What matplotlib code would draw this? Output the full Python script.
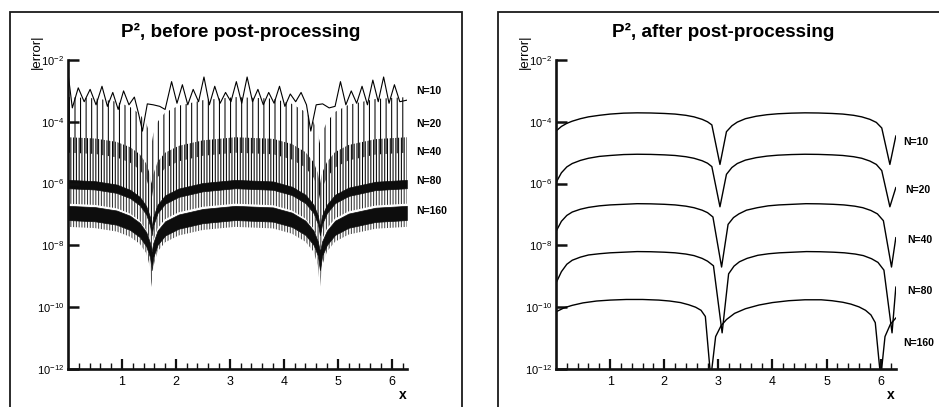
import numpy as np
import matplotlib
matplotlib.use("Agg")
import matplotlib.pyplot as plt
from matplotlib.patches import Rectangle
from matplotlib.ticker import FixedLocator, NullLocator

plt.rcParams['font.family'] = ['Liberation Sans', 'DejaVu Sans']
plt.rcParams['mathtext.fontset'] = 'custom'
plt.rcParams['mathtext.rm'] = 'Liberation Sans'
plt.rcParams['mathtext.it'] = 'Liberation Sans:italic'
plt.rcParams['mathtext.bf'] = 'Liberation Sans:bold'
plt.rcParams['hatch.linewidth'] = 0.75

# ---------------- data (log10 of |error|) ----------------
mesh_labels = ["N=10", "N=20", "N=40", "N=80", "N=160"]
y_tick_exps = [-2, -4, -6, -8, -10, -12]
x_major = [1, 2, 3, 4, 5, 6]

# before post-processing: coarsest mesh drawn point by point
pre10_x = [0.00, 0.08, 0.19, 0.30, 0.41, 0.52, 0.63, 0.73, 0.83, 0.93,
           1.03, 1.13, 1.23, 1.31, 1.38, 1.47, 1.58, 1.70, 1.80, 1.92,
           2.02, 2.12, 2.22, 2.32, 2.42, 2.52, 2.62, 2.72, 2.82, 2.92,
           3.02, 3.12, 3.22, 3.32, 3.42, 3.52, 3.62, 3.72, 3.82, 3.92,
           4.02, 4.12, 4.22, 4.32, 4.42, 4.50, 4.60, 4.72, 4.84, 4.95,
           5.05, 5.15, 5.25, 5.35, 5.45, 5.55, 5.65, 5.75, 5.85, 5.95,
           6.05, 6.15, 6.28]
pre10_y = [-2.42, -3.55, -2.90, -3.35, -2.95, -3.45, -2.85, -3.50, -3.05, -3.60,
           -3.00, -3.45, -3.20, -3.75, -4.30, -3.42, -3.45, -3.50, -3.60, -2.70,
           -3.40, -2.80, -3.45, -2.95, -3.35, -2.55, -3.45, -2.85, -3.40, -3.05,
           -3.35, -2.70, -3.40, -2.55, -3.35, -2.95, -3.45, -3.05, -3.40, -2.85,
           -3.50, -3.10, -3.35, -3.05, -3.45, -4.30, -3.45, -3.42, -3.55, -3.50,
           -2.70, -3.45, -3.00, -3.40, -2.85, -3.45, -2.65, -3.35, -2.55, -3.40,
           -2.80, -3.35, -3.30]

# before post-processing: finer meshes oscillate too densely to resolve,
# so they are given by the envelopes of their oscillation bands
env_x = [0.0, 0.5, 0.9, 1.15, 1.33, 1.45, 1.52, 1.55, 1.58, 1.66, 1.8, 2.05, 2.5,
         3.1, 3.8, 4.15, 4.4, 4.55, 4.63, 4.67, 4.71, 4.8, 4.95, 5.2, 5.7, 6.28]
pre20_hi = [-3.2, -3.24, -3.35, -3.52, -3.75, -4.05, -4.4, -4.7, -4.4, -4.0, -3.7, -3.48, -3.3,
            -3.2, -3.25, -3.42, -3.68, -4.0, -4.35, -4.7, -4.35, -4.0, -3.68, -3.45, -3.26, -3.2]
pre20_lo = [-5.0, -5.04, -5.15, -5.32, -5.55, -5.85, -6.2, -6.5, -6.2, -5.8, -5.5, -5.28, -5.1,
            -5.0, -5.05, -5.22, -5.48, -5.8, -6.15, -6.5, -6.15, -5.8, -5.48, -5.25, -5.06, -5.0]
pre40_hi = [-4.5, -4.54, -4.65, -4.82, -5.05, -5.35, -5.7, -6.0, -5.7, -5.3, -5.0, -4.78, -4.6,
            -4.5, -4.55, -4.72, -4.98, -5.3, -5.65, -6.0, -5.65, -5.3, -4.98, -4.75, -4.56, -4.5]
pre40_lo = [-6.0, -6.04, -6.15, -6.32, -6.55, -6.85, -7.2, -7.5, -7.2, -6.8, -6.5, -6.28, -6.1,
            -6.0, -6.05, -6.22, -6.48, -6.8, -7.15, -7.5, -7.15, -6.8, -6.48, -6.25, -6.06, -6.0]
pre80_hi = [-5.88, -5.92, -6.03, -6.2, -6.43, -6.73, -7.08, -7.4, -7.08, -6.68, -6.38, -6.16, -5.98,
            -5.88, -5.93, -6.1, -6.36, -6.68, -7.03, -7.4, -7.03, -6.68, -6.36, -6.13, -5.94, -5.88]
pre80_mid = [-6.15, -6.19, -6.3, -6.47, -6.7, -7.0, -7.35, -7.67, -7.35, -6.95, -6.65, -6.43, -6.25,
             -6.15, -6.2, -6.37, -6.63, -6.95, -7.3, -7.67, -7.3, -6.95, -6.63, -6.4, -6.21, -6.15]
pre80_lo = [-6.65, -6.69, -6.8, -6.97, -7.2, -7.5, -7.85, -8.3, -7.85, -7.45, -7.15, -6.93, -6.75,
            -6.65, -6.7, -6.87, -7.13, -7.45, -7.8, -8.3, -7.8, -7.45, -7.13, -6.9, -6.71, -6.65]
pre160_hi = [-6.72, -6.76, -6.87, -7.04, -7.27, -7.57, -7.92, -8.2, -7.92, -7.52, -7.22, -7.0, -6.82,
             -6.72, -6.77, -6.94, -7.2, -7.52, -7.87, -8.2, -7.87, -7.52, -7.2, -6.97, -6.78, -6.72]
pre160_mid = [-7.18, -7.22, -7.33, -7.5, -7.73, -8.03, -8.38, -8.8, -8.38, -7.98, -7.68, -7.46, -7.28,
              -7.18, -7.23, -7.4, -7.66, -7.98, -8.33, -8.8, -8.33, -7.98, -7.66, -7.43, -7.24, -7.18]
pre160_lo = [-7.4, -7.44, -7.55, -7.72, -7.95, -8.25, -8.7, -9.35, -8.7, -8.2, -7.9, -7.68, -7.5,
             -7.4, -7.45, -7.62, -7.88, -8.2, -8.65, -9.35, -8.65, -8.2, -7.88, -7.65, -7.46, -7.4]

# after post-processing: smooth error curves
post10_x = [0.0, 0.1, 0.2, 0.3, 0.45, 0.6, 0.8, 1.0, 1.25, 1.5, 1.75, 2.0, 2.2, 2.4,
            2.55, 2.7, 2.8, 2.88, 3.03, 3.15, 3.25, 3.35, 3.5, 3.7, 3.9, 4.1, 4.35,
            4.6, 4.85, 5.1, 5.3, 5.5, 5.65, 5.8, 5.92, 6.02, 6.17, 6.28]
post10_y = [-4.30, -4.15, -4.05, -3.98, -3.90, -3.84, -3.79, -3.75, -3.72, -3.71, -3.715,
            -3.73, -3.75, -3.79, -3.84, -3.92, -4.00, -4.10, -5.38, -4.32, -4.13, -4.01,
            -3.90, -3.82, -3.77, -3.74, -3.72, -3.71, -3.715, -3.73, -3.75, -3.79, -3.84,
            -3.92, -4.02, -4.20, -5.38, -4.46]
post20_x = post10_x
post20_y = [-5.97, -5.65, -5.46, -5.35, -5.25, -5.18, -5.12, -5.09, -5.06, -5.05, -5.055,
            -5.07, -5.09, -5.13, -5.18, -5.26, -5.34, -5.45, -6.75, -5.70, -5.48, -5.35,
            -5.24, -5.16, -5.11, -5.08, -5.06, -5.05, -5.055, -5.07, -5.09, -5.13, -5.18,
            -5.27, -5.38, -5.58, -6.75, -6.13]
post40_x = [0.0, 0.1, 0.2, 0.3, 0.45, 0.6, 0.8, 1.0, 1.25, 1.5, 1.75, 2.0, 2.2, 2.4,
            2.55, 2.7, 2.8, 2.9, 3.06, 3.18, 3.28, 3.38, 3.52, 3.72, 3.92, 4.12, 4.37,
            4.62, 4.87, 5.12, 5.32, 5.52, 5.67, 5.82, 5.94, 6.05, 6.2, 6.28]
post40_y = [-7.55, -7.22, -7.03, -6.92, -6.83, -6.77, -6.72, -6.69, -6.67, -6.65, -6.655,
            -6.67, -6.69, -6.73, -6.78, -6.86, -6.94, -7.08, -8.7, -7.32, -7.1, -6.98,
            -6.86, -6.78, -6.72, -6.69, -6.67, -6.65, -6.655, -6.67, -6.69, -6.73, -6.78,
            -6.87, -6.98, -7.2, -8.7, -7.75]
post80_x = [0.0, 0.1, 0.2, 0.3, 0.45, 0.6, 0.8, 1.0, 1.25, 1.5, 1.75, 2.0, 2.2, 2.4,
            2.55, 2.7, 2.8, 2.91, 3.07, 3.19, 3.29, 3.39, 3.53, 3.73, 3.93, 4.13, 4.38,
            4.63, 4.88, 5.13, 5.33, 5.53, 5.68, 5.83, 5.95, 6.06, 6.21, 6.28]
post80_y = [-9.22, -8.85, -8.61, -8.48, -8.38, -8.31, -8.27, -8.24, -8.22, -8.2, -8.205,
            -8.22, -8.24, -8.28, -8.33, -8.42, -8.51, -8.66, -10.83, -8.92, -8.67, -8.53,
            -8.42, -8.32, -8.27, -8.24, -8.22, -8.2, -8.205, -8.22, -8.24, -8.28, -8.33,
            -8.43, -8.55, -8.8, -10.83, -9.35]
post160_x = [0.0, 0.15, 0.3, 0.5, 0.75, 1.0, 1.3, 1.6, 1.9, 2.1, 2.3, 2.45, 2.58, 2.68,
             2.76, 2.86, 2.95, 3.05, 3.15, 3.3, 3.5, 3.75, 4.0, 4.3, 4.6, 4.9, 5.1, 5.3,
             5.45, 5.6, 5.72, 5.82, 5.9, 6.0, 6.08, 6.18, 6.28]
post160_y = [-10.15, -10.02, -9.94, -9.86, -9.8, -9.77, -9.75, -9.75, -9.77, -9.8, -9.85,
             -9.92, -10.0, -10.1, -10.3, -12.3, -10.95, -10.6, -10.4, -10.2, -10.05, -9.93,
             -9.85, -9.79, -9.76, -9.76, -9.79, -9.84, -9.9, -9.99, -10.1, -10.25, -10.5,
             -12.3, -10.95, -10.55, -10.35]

post_x = [post10_x, post20_x, post40_x, post80_x, post160_x]
post_y = [post10_y, post20_y, post40_y, post80_y, post160_y]

# ---------------- figure ----------------
W, H = 939, 407
fig = plt.figure(figsize=(W / 100, H / 100), dpi=100)


def fx(px):
    return px / W


def fy(py):
    return 1 - py / H


# framing boxes around each panel
for x0, x1 in [(10, 462), (498, 960)]:
    fig.add_artist(Rectangle((fx(x0), fy(430)), fx(x1 - x0), (430 - 12) / H,
                             transform=fig.transFigure, fill=False,
                             lw=1.3, ec="#1a1a1a"))


def style_axes(ax):
    ax.set_yscale("log")
    ax.set_xlim(0, 2 * np.pi)
    ax.set_ylim(1e-12, 1e-2)
    for s in ("top", "right"):
        ax.spines[s].set_visible(False)
    for s in ("left", "bottom"):
        ax.spines[s].set_linewidth(1.9)
        ax.spines[s].set_color("#111111")
    ax.yaxis.set_major_locator(FixedLocator([10.0 ** e for e in y_tick_exps]))
    ax.yaxis.set_minor_locator(NullLocator())
    ax.set_yticklabels([r"$10^{%d}$" % e for e in y_tick_exps])
    ax.xaxis.set_major_locator(FixedLocator(x_major))
    ax.set_xticklabels([str(v) for v in x_major])
    ax.xaxis.set_minor_locator(FixedLocator(np.arange(0.2, 6.3, 0.2)))
    ax.tick_params(axis="y", which="major", direction="in", length=8, width=1.8,
                   labelsize=8, pad=3, color="#111111")
    ax.tick_params(axis="x", which="major", direction="in", length=7, width=1.6,
                   labelsize=9, pad=5, color="#111111")
    ax.tick_params(axis="x", which="minor", direction="in", length=4, width=1.0,
                   color="#111111")
    ax.patch.set_alpha(0)


# ---------------- left panel ----------------
ax1 = fig.add_axes([fx(68), fy(369), fx(407 - 68), (369 - 60) / H])
style_axes(ax1)
ex = np.array(env_x)


def band(ax, lo, hi, **kw):
    ax.fill_between(ex, 10.0 ** np.array(lo), 10.0 ** np.array(hi), **kw)


band(ax1, pre20_lo, pre20_hi, facecolor="none", edgecolor="black", hatch="|||", lw=0)
band(ax1, pre40_lo, pre40_hi, facecolor="none", edgecolor="black", hatch="||||||", lw=0)
band(ax1, pre80_lo, pre80_mid, facecolor="none", edgecolor="#333333", hatch="||||||", lw=0)
band(ax1, pre80_mid, pre80_hi, facecolor="#0d0d0d", edgecolor="#0d0d0d", lw=0.5)
band(ax1, pre160_lo, pre160_mid, facecolor="none", edgecolor="#444444", hatch="||||||", lw=0)
band(ax1, pre160_mid, pre160_hi, facecolor="#0d0d0d", edgecolor="#0d0d0d", lw=0.5)
ax1.plot(pre10_x, 10.0 ** np.array(pre10_y), color="black", lw=0.8)

# ---------------- right panel ----------------
ax2 = fig.add_axes([fx(556), fy(369), fx(896 - 556), (369 - 60) / H])
style_axes(ax2)
for xs, ys in zip(post_x, post_y):
    ax2.plot(xs, 10.0 ** np.array(ys), color="black", lw=1.0)

# ---------------- text ----------------
fig.text(fx(241), fy(32), "P², before post-processing", ha="center", va="center",
         fontsize=13.6, fontweight="bold")
fig.text(fx(723), fy(32), "P², after post-processing", ha="center", va="center",
         fontsize=13.6, fontweight="bold")
for px in (37, 525):
    fig.text(fx(px), fy(52), "|error|", rotation=90, ha="center", va="center",
             fontsize=9.5)
fig.text(fx(403), fy(395), "x", ha="center", va="center", fontsize=10, fontweight="bold")
fig.text(fx(891), fy(395), "x", ha="center", va="center", fontsize=10, fontweight="bold")

left_label_y = [91, 124, 152, 181, 211]
right_label_y = [142, 190, 240, 291, 343]
right_label_x = [903, 905, 907, 907, 903]
for lab, py in zip(mesh_labels, left_label_y):
    fig.text(fx(416), fy(py), lab, ha="left", va="center", fontsize=7.5, fontweight="bold")
for lab, px, py in zip(mesh_labels, right_label_x, right_label_y):
    fig.text(fx(px), fy(py), lab, ha="left", va="center", fontsize=7.5, fontweight="bold")

fig.savefig("out.png", dpi=100)
